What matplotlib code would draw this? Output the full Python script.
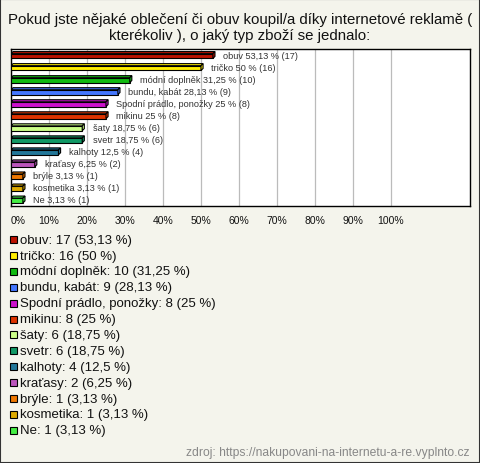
import matplotlib.pyplot as plt
from matplotlib.patches import Rectangle, Polygon

plt.rcParams['font.family'] = ['Liberation Sans', 'DejaVu Sans']

# data
categories = ["obuv", "tričko", "módní doplněk", "bundu, kabát", "Spodní prádlo, ponožky",
              "mikinu", "šaty", "svetr", "kalhoty", "kraťasy", "brýle", "kosmetika", "Ne"]
counts = [17, 16, 10, 9, 8, 8, 6, 6, 4, 2, 1, 1, 1]
percents = [53.13, 50, 31.25, 28.13, 25, 25, 18.75, 18.75, 12.5, 6.25, 3.13, 3.13, 3.13]
colors = ["#bb1100", "#ffee00", "#11bb11", "#4477ff", "#cc11cc", "#dd3300", "#ccff88",
          "#119966", "#227799", "#bb55bb", "#ee7700", "#ddaa00", "#44ee44"]
x_ticks = list(range(0, 101, 10))

title = ("Pokud jste nějaké oblečení či obuv koupil/a díky internetové reklamě (\n"
         "kterékoliv ), o jaký typ zboží se jednalo:")
source = "zdroj: https://nakupovani-na-internetu-a-re.vyplnto.cz"


def fmt(p):
    return f"{p:g}".replace(".", ",")


W, H = 480, 464
fig = plt.figure(figsize=(W / 100, H / 100), dpi=100, facecolor="#f4f4ec")
ax = fig.add_axes([11 / W, 1 - 206.5 / H, 459 / W, 156.5 / H])
ax.set_facecolor("white")

fig.text(0.5, 1 - 28 / H, title, ha="center", va="center", fontsize=10.8,
         linespacing=1.12, color="#111111")

# 3d-ish bars
dx = 0.55
dy = 0.17
h = 0.4
for i, (v, c) in enumerate(zip(percents, colors)):
    top = i - (h + dy) / 2 + dy
    bot = top + h
    ax.add_patch(Rectangle((0, top), v, h, facecolor=c, edgecolor="black", lw=0.8, zorder=3))
    ax.add_patch(Polygon([(0, top), (v, top), (v + dx, top - dy), (dx, top - dy)],
                         facecolor=c, edgecolor="black", lw=0.8, zorder=3))
    ax.add_patch(Polygon([(v, top), (v + dx, top - dy), (v + dx, bot - dy), (v, bot)],
                         facecolor=c, edgecolor="black", lw=0.8, zorder=3))
    ax.annotate(f"{categories[i]} {fmt(v)} % ({counts[i]})", (v, i), xytext=(7.5, 0),
                textcoords="offset points", ha="left", va="center", fontsize=6.6,
                color="#333333", zorder=4)

ax.set_xlim(0, 120.8)
ax.set_ylim(len(categories) - 0.5, -0.5)
ax.set_yticks([])
ax.set_xticks(x_ticks)
ax.set_xticklabels([f"{t}%" for t in x_ticks], fontsize=7.5, color="#111111")
ax.get_xticklabels()[0].set_ha("left")
ax.tick_params(axis="x", length=0, pad=6.5)
ax.grid(axis="x", color="#bbbbbb", lw=0.9, zorder=0)
for s in ax.spines.values():
    s.set_color("black")
    s.set_linewidth(1)

# legend below
y0, step = 240.7, 15.88
for i, c in enumerate(colors):
    py = y0 + i * step
    fig.patches.append(Rectangle((10 / W, 1 - (py + 3.5) / H), 7 / W, 7 / H,
                                 transform=fig.transFigure, facecolor=c,
                                 edgecolor="black", lw=0.8))
    fig.text(20 / W, 1 - py / H, f"{categories[i]}: {counts[i]} ({fmt(percents[i])} %)",
             ha="left", va="center", fontsize=9.5, color="#111111")

fig.text(470 / W, 1 - 453 / H, source, ha="right", va="center", fontsize=8.7, color="#888888")

fig.patches.append(Rectangle((0, 0), 1, 1, transform=fig.transFigure, fill=False,
                             edgecolor="#333333", lw=1.5))

plt.savefig("out.png", dpi=100, facecolor=fig.get_facecolor())
